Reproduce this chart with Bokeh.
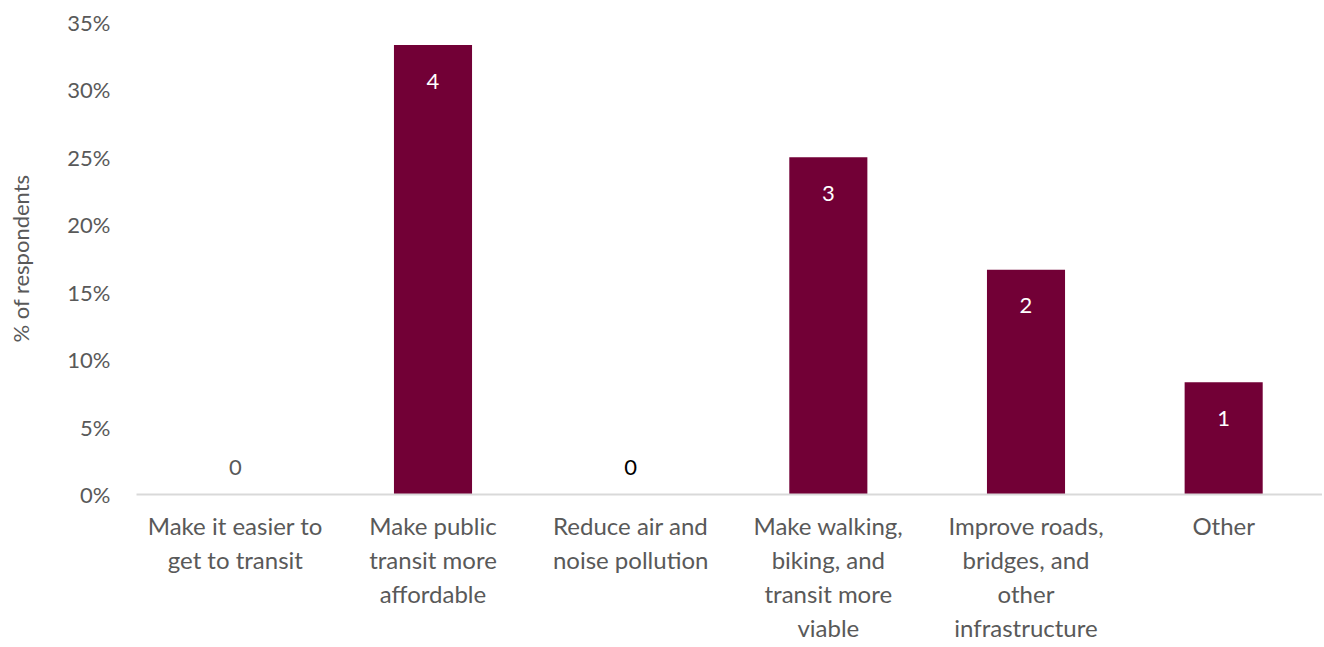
from bokeh.plotting import figure
from bokeh.models import FactorRange, Range1d, FixedTicker, NumeralTickFormatter, ColumnDataSource
from bokeh.core.properties import value
from bokeh.embed import file_html
from bokeh.resources import INLINE

categories = [
    "Make it easier to\nget to transit",
    "Make public\ntransit more\naffordable",
    "Reduce air and\nnoise pollution",
    "Make walking,\nbiking, and\ntransit more\nviable",
    "Improve roads,\nbridges, and\nother\ninfrastructure",
    "Other",
]
counts = [0, 4, 0, 3, 2, 1]
shares = [0.0, 0.3333, 0.0, 0.25, 0.1667, 0.0833]
labels = [str(c) for c in counts]
y_ticks = [0, 0.05, 0.10, 0.15, 0.20, 0.25, 0.30, 0.35]
y_title = "% of respondents"

FONT = "Lato"
GRAY = "#595959"
BAR = "#720036"
zero_label_colors = [GRAY, "#000000"]

zi = 0
label_colors = []
label_offsets = []
for s in shares:
    if s > 0:
        label_colors.append("#ffffff")
        label_offsets.append(36)
    else:
        label_colors.append(zero_label_colors[zi % 2])
        zi += 1
        label_offsets.append(-27)

src = ColumnDataSource(dict(cat=categories, share=shares, lab=labels,
                            col=label_colors, off=label_offsets))

p = figure(width=1322, height=645, output_backend="svg", toolbar_location=None,
           x_range=FactorRange(*categories, range_padding=0),
           y_range=Range1d(0, 0.35),
           min_border_left=136, min_border_right=0, min_border_top=22, min_border_bottom=10)
p.outline_line_color = None
p.background_fill_color = "white"
p.border_fill_color = "white"

p.vbar(x="cat", top="share", width=0.395, source=src, color=BAR, line_color=None)
p.text(x="cat", y="share", text="lab", source=src, text_color="col", y_offset="off",
       text_align="center", text_baseline="middle", text_font=value(FONT), text_font_size="22px")

p.xgrid.visible = False
p.ygrid.visible = False

p.yaxis.ticker = FixedTicker(ticks=y_ticks)
p.yaxis.formatter = NumeralTickFormatter(format="0%")
p.yaxis.axis_line_color = None
p.yaxis.major_tick_line_color = None
p.yaxis.minor_tick_line_color = None
p.yaxis.major_label_text_font = FONT
p.yaxis.major_label_text_font_size = "22px"
p.yaxis.major_label_text_color = GRAY
p.yaxis.major_label_standoff = 20
p.yaxis.axis_label = y_title
p.yaxis.axis_label_text_font = FONT
p.yaxis.axis_label_text_font_size = "22px"
p.yaxis.axis_label_text_font_style = "normal"
p.yaxis.axis_label_text_color = GRAY
p.yaxis.axis_label_standoff = 30

p.xaxis.axis_line_color = "#d9d9d9"
p.xaxis.axis_line_width = 2
p.xaxis.major_tick_line_color = None
p.xaxis.minor_tick_line_color = None
p.xaxis.major_label_text_font = FONT
p.xaxis.major_label_text_font_size = "24px"
p.xaxis.major_label_text_color = GRAY
p.xaxis.major_label_text_line_height = 1.18
p.xaxis.major_label_standoff = 10

open("out.html", "w").write(file_html(p, INLINE))
